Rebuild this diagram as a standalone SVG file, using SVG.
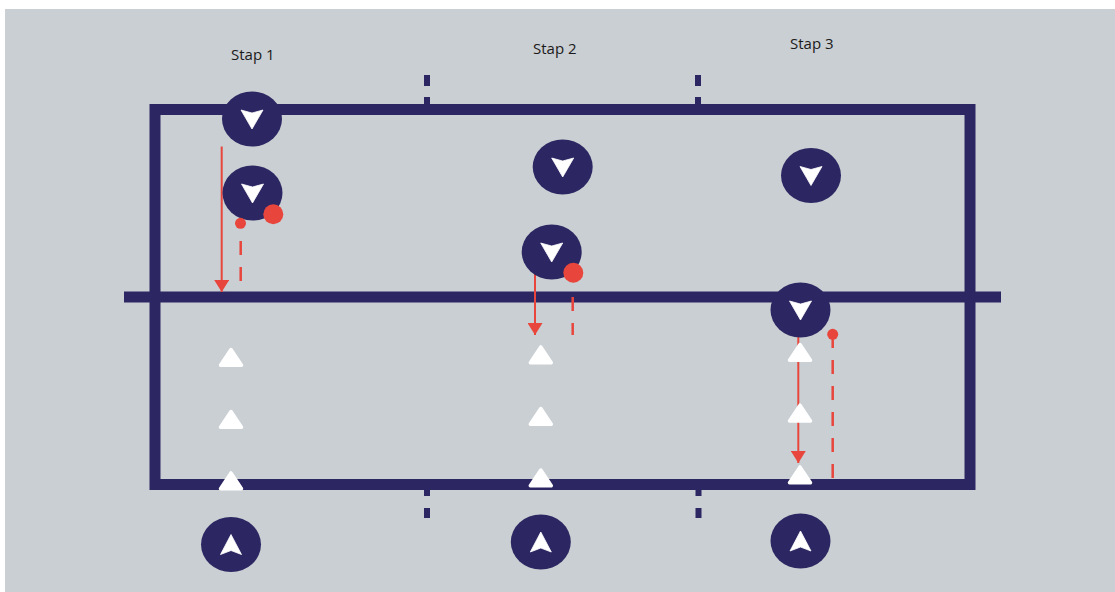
<svg xmlns="http://www.w3.org/2000/svg" width="1115" height="592" viewBox="0 0 1115 592">
  <style>
    .court { fill: none; stroke: #2c2762; stroke-width: 11; }
    .tick { fill: #2c2762; }
    .player { fill: #2c2762; }
    .glyph { fill: #ffffff; stroke: #ffffff; stroke-width: 0.8; stroke-linejoin: round; }
    .cone { fill: #ffffff; stroke: #ffffff; stroke-width: 3.5; stroke-linejoin: round; }
    .run { stroke: #e8463c; stroke-width: 2; fill: none; }
    .pass { stroke: #e8463c; stroke-width: 2.5; fill: none; stroke-dasharray: 14 12; }
    .ball { fill: #e8463c; }
    .label { font-family: "Open Sans", "Liberation Sans", Arial, sans-serif; font-size: 15px; fill: #1a1a1a; }
  </style>
  <defs>
    <marker id="head" markerUnits="userSpaceOnUse" viewBox="0 0 12 15" refX="12" refY="7.5" markerWidth="12" markerHeight="15" orient="auto">
      <path d="M0,0 L12,7.5 L0,15 Z" fill="#e8463c"/>
    </marker>
    <!-- player facing down -->
    <g id="pDown">
      <ellipse class="player" cx="0" cy="0" rx="30" ry="27.5"/>
      <path class="glyph" d="M-11,-9 L0,-6 L11,-9 L0,10 Z"/>
    </g>
    <!-- player facing up -->
    <g id="pUp">
      <ellipse class="player" cx="0" cy="0" rx="30" ry="27.5"/>
      <path class="glyph" d="M-10.5,10 L0,6 L10.5,10 L0,-10 Z"/>
    </g>
    <polygon id="coneShape" class="cone" points="0,-7.8 10.5,8 -10.5,8"/>
  </defs>

  <!-- backdrop -->
  <rect x="0" y="0" width="1115" height="592" fill="#ffffff"/>
  <rect x="5" y="9" width="1110" height="583" fill="#cacfd3"/>

  <!-- court -->
  <g id="court">
    <rect class="court" x="155" y="109.5" width="815" height="375"/>
    <line class="court" x1="124" y1="297" x2="1001" y2="297"/>
    <rect class="tick" x="424" y="75" width="6" height="11"/>
    <rect class="tick" x="424" y="97" width="6" height="8"/>
    <rect class="tick" x="695" y="75" width="6" height="11"/>
    <rect class="tick" x="695" y="97" width="6" height="8"/>
    <rect class="tick" x="424" y="489" width="6" height="7"/>
    <rect class="tick" x="424" y="508" width="6" height="10"/>
    <rect class="tick" x="695.5" y="489" width="6" height="7"/>
    <rect class="tick" x="695.5" y="508" width="6" height="10"/>
  </g>

  <!-- labels -->
  <g id="labels">
    <text class="label" x="231" y="60">Stap 1</text>
    <text class="label" x="533" y="54">Stap 2</text>
    <text class="label" x="790" y="49">Stap 3</text>
  </g>

  <!-- connectors: runs and passes -->
  <g id="connectors">
    <line class="run" x1="221.7" y1="146.5" x2="221.7" y2="292" marker-end="url(#head)"/>
    <line class="pass" x1="240.7" y1="241" x2="240.7" y2="281"/>
    <line class="run" x1="535" y1="270" x2="535" y2="335" marker-end="url(#head)"/>
    <line class="pass" x1="572.7" y1="297" x2="572.7" y2="335" stroke-dasharray="14 7"/>
    <line class="run" x1="798.3" y1="336" x2="798.3" y2="463" marker-end="url(#head)"/>
    <line class="pass" x1="832.7" y1="334" x2="832.7" y2="488" stroke-dasharray="14 9.33"/>
  </g>

  <!-- stap 1 -->
  <g id="stap1-p1"><use href="#pDown" x="252" y="119"/></g>
  <g id="stap1-p2">
    <use href="#pDown" x="252.5" y="193"/>
    <circle class="ball" cx="273.3" cy="214.3" r="10"/>
  </g>
  <g id="stap1-ball"><circle class="ball" cx="240.5" cy="223.3" r="5.5"/></g>
  <g id="stap1-cones">
    <use href="#coneShape" x="231" y="357.3"/>
    <use href="#coneShape" x="231" y="419.3"/>
    <use href="#coneShape" x="231" y="480.7"/>
  </g>
  <g id="stap1-p3"><use href="#pUp" x="231" y="544.5"/></g>

  <!-- stap 2 -->
  <g id="stap2-p1"><use href="#pDown" x="562.7" y="167"/></g>
  <g id="stap2-p2">
    <use href="#pDown" x="551.7" y="252"/>
    <circle class="ball" cx="573.3" cy="272.7" r="10"/>
  </g>
  <g id="stap2-cones">
    <use href="#coneShape" x="540.8" y="354.7"/>
    <use href="#coneShape" x="540.8" y="416.3"/>
    <use href="#coneShape" x="540.8" y="477.8"/>
  </g>
  <g id="stap2-p3"><use href="#pUp" x="540.8" y="542"/></g>

  <!-- stap 3 -->
  <g id="stap3-p1"><use href="#pDown" x="811" y="175.5"/></g>
  <g id="stap3-p2"><use href="#pDown" x="800.5" y="310"/></g>
  <g id="stap3-ball"><circle class="ball" cx="832.7" cy="334.3" r="5.5"/></g>
  <g id="stap3-cones">
    <use href="#coneShape" x="800" y="352.3"/>
    <use href="#coneShape" x="800" y="413"/>
    <use href="#coneShape" x="800" y="474.7"/>
  </g>
  <g id="stap3-p3"><use href="#pUp" x="800.5" y="541"/></g>
</svg>
